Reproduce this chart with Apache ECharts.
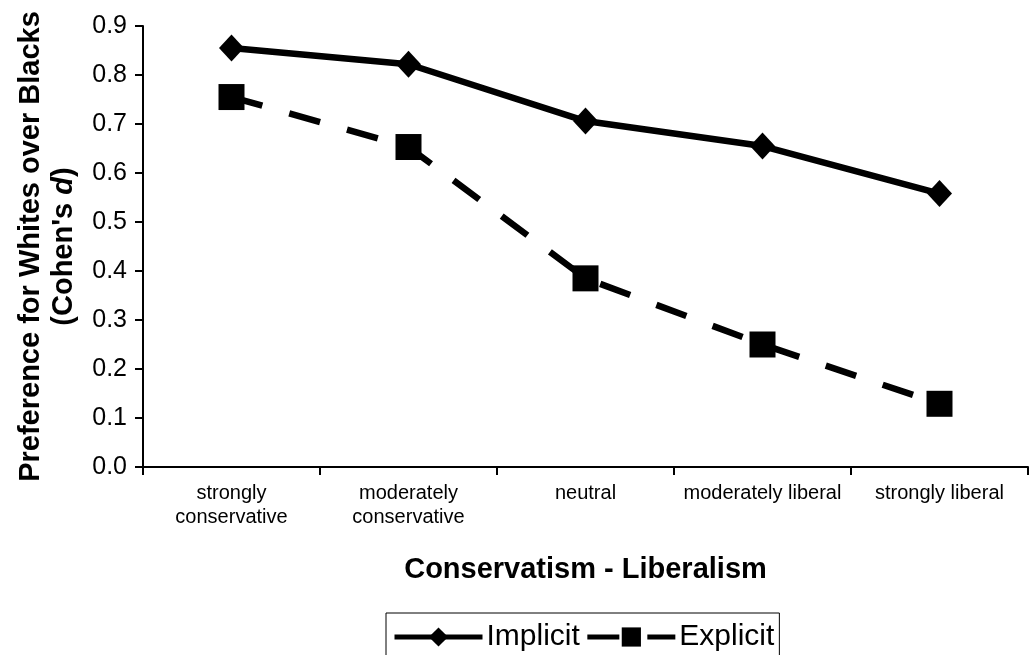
<!DOCTYPE html>
<html>
<head>
<meta charset="utf-8">
<script src="https://cdn.jsdelivr.net/npm/echarts@6/dist/echarts.min.js"></script>
<style>html,body{margin:0;padding:0;background:#fff}#chart{width:1029px;height:655px}</style>
</head>
<body>
<div id="chart"></div>
<script>
const categories = ['strongly\nconservative', 'moderately\nconservative', 'neutral', 'moderately liberal', 'strongly liberal'];
const implicitValues = [0.855, 0.822, 0.706, 0.655, 0.558];
const explicitValues = [0.755, 0.653, 0.385, 0.250, 0.129];
const yTicks = { min: 0, max: 0.9, interval: 0.1 };

const FONT = '"Liberation Sans", Arial, Helvetica, sans-serif';
const chart = echarts.init(document.getElementById('chart'));
chart.setOption({
  animation: false,
  backgroundColor: '#fff',
  textStyle: { fontFamily: FONT, color: '#000' },
  grid: { left: 143, right: 1, top: 26, bottom: 188, containLabel: false, outerBoundsMode: 'none' },
  legend: {
    left: 386, top: 613,
    data: ['Implicit', 'Explicit'],
    itemWidth: 88, itemHeight: 24, itemGap: 5,
    borderColor: '#000', borderWidth: 1,
    padding: [9, 5, 30, 6],
    lineStyle: { width: 5 },
    textStyle: { fontFamily: FONT, fontSize: 30, color: '#000', padding: [0, 0, 0, -1] }
  },
  xAxis: {
    type: 'category',
    data: categories,
    boundaryGap: true,
    name: 'Conservatism - Liberalism',
    nameLocation: 'middle',
    nameGap: 88,
    nameTextStyle: { fontFamily: FONT, fontSize: 29, fontWeight: 'bold', color: '#000' },
    axisLine: { lineStyle: { color: '#000', width: 2 } },
    axisTick: { show: true, length: 8, lineStyle: { color: '#000', width: 2 }, alignWithLabel: false },
    axisLabel: { fontFamily: FONT, fontSize: 20, color: '#000', margin: 14, lineHeight: 24, interval: 0 },
    splitLine: { show: false }
  },
  yAxis: {
    type: 'value',
    min: yTicks.min, max: yTicks.max, interval: yTicks.interval,
    name: '{a|Preference for Whites over Blacks}\n{a|(Cohen\'s }{b|d}{a|)}',
    nameLocation: 'middle',
    nameRotate: 90,
    nameGap: 63,
    nameTextStyle: {
      align: 'center',
      rich: {
        a: { fontFamily: FONT, fontSize: 29, fontWeight: 'bold', color: '#000', lineHeight: 33 },
        b: { fontFamily: FONT, fontSize: 29, fontWeight: 'bold', fontStyle: 'italic', color: '#000', lineHeight: 33 }
      }
    },
    axisLine: { show: true, lineStyle: { color: '#000', width: 2 } },
    axisTick: { show: true, length: 8, lineStyle: { color: '#000', width: 2 } },
    axisLabel: { fontFamily: FONT, fontSize: 25, color: '#000', margin: 16, formatter: v => v.toFixed(1) },
    splitLine: { show: false }
  },
  series: [
    {
      name: 'Implicit', type: 'line', data: implicitValues,
      symbol: 'diamond', symbolSize: [25, 27],
      itemStyle: { color: '#000' },
      lineStyle: { color: '#000', width: 6.5 }
    },
    {
      name: 'Explicit', type: 'line', data: explicitValues,
      symbol: 'rect', symbolSize: 26,
      itemStyle: { color: '#000' },
      lineStyle: { color: '#000', width: 6.5, type: [32, 28] }
    }
  ]
});
</script>
</body>
</html>
